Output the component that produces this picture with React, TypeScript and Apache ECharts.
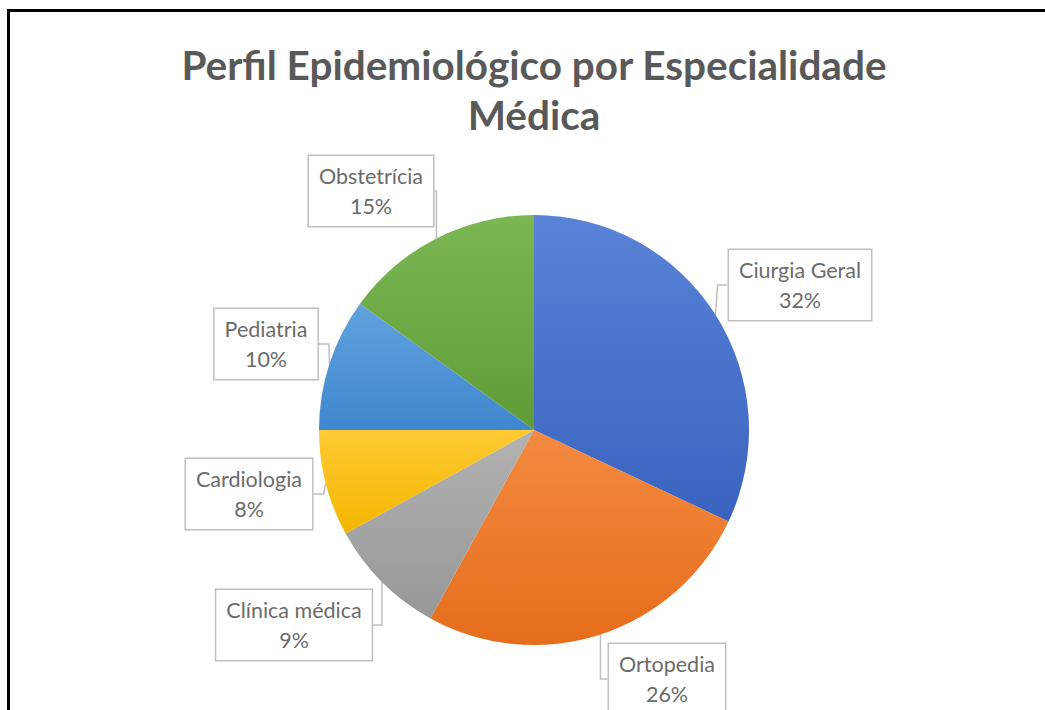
import React, { useEffect, useRef } from "react";
import * as echarts from "echarts";

const categories = ["Ciurgia Geral", "Ortopedia", "Clínica médica", "Cardiologia", "Pediatria", "Obstetrícia"];
const values = [32, 26, 9, 8, 10, 15];
const colorsTop = ["#5883d6", "#f38a40", "#b2b2b2", "#ffca33", "#62a3de", "#7bb752"];
const colorsBottom = ["#3a63c0", "#e66d1c", "#979797", "#f3b600", "#3e86ce", "#5f9c38"];
// label box centres (layout only)
const labelCenters: [number, number][] = [
  [800, 285],
  [667, 679],
  [294, 625],
  [249, 494],
  [266, 344],
  [371, 191],
];

export default function App() {
  const ref = useRef<HTMLDivElement>(null);
  useEffect(() => {
    const chart = echarts.init(ref.current!, null, { renderer: "svg" });
    const data = categories.map((name, i) => ({
      name,
      value: values[i],
      itemStyle: {
        color: new echarts.graphic.LinearGradient(0, 0, 0, 1, [
          { offset: 0, color: colorsTop[i] },
          { offset: 1, color: colorsBottom[i] },
        ]),
      },
    }));
    chart.setOption({
      animation: false,
      backgroundColor: "#ffffff",
      title: {
        text: "Perfil Epidemiológico por Especialidade\nMédica",
        left: 529,
        textAlign: "center",
        top: 34,
        textStyle: {
          fontFamily: "Lato",
          fontWeight: "bold",
          fontSize: 40.5,
          lineHeight: 50,
          color: "#595959",
        },
      },
      graphic: [
        { type: "line", shape: { x1: 8.5, y1: 9, x2: 8.5, y2: 710 }, style: { stroke: "#000", lineWidth: 3 } },
        { type: "line", shape: { x1: 7, y1: 10.5, x2: 1045, y2: 10.5 }, style: { stroke: "#000", lineWidth: 3 } },
      ],
      series: [
        {
          type: "pie",
          center: [534, 430],
          radius: 215,
          startAngle: 90,
          clockwise: true,
          percentPrecision: 0,
          data,
          itemStyle: { borderWidth: 0 },
          label: {
            show: true,
            position: "outside",
            formatter: "{b}\n{d}%",
            fontFamily: "Lato",
            fontSize: 21.5,
            lineHeight: 30,
            color: "#6b6b6b",
            backgroundColor: "#ffffff",
            borderColor: "#bfbfbf",
            borderWidth: 1.5,
            padding: [6, 10, 4, 10],
            align: "center",
          },
          labelLine: {
            show: true,
            length: 10,
            length2: 10,
            lineStyle: { color: "#bfbfbf", width: 1.5 },
          },
          labelLayout: (params: any) => {
            const c = labelCenters[params.dataIndex];
            return { x: c[0], y: c[1], align: "center", verticalAlign: "middle" };
          },
          emphasis: { disabled: true },
        },
      ],
    });
    return () => chart.dispose();
  }, []);
  return (
    <div
      ref={ref}
      style={{ position: "absolute", left: 0, top: 0, width: 1045, height: 710 }}
    />
  );
}
